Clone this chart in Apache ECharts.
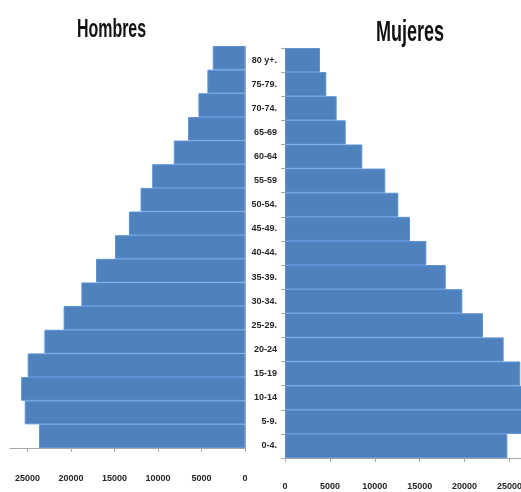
<!DOCTYPE html>
<html>
<head>
<meta charset="utf-8">
<script src="https://cdn.jsdelivr.net/npm/echarts@6/dist/echarts.min.js"></script>
<style>
  html, body { margin: 0; padding: 0; background: #fff; }
  #chart { width: 521px; height: 492px; }
</style>
</head>
<body>
<div id="chart"></div>
<script>
// Age groups, youngest at the bottom
const ageGroups = ['0-4.', '5-9.', '10-14', '15-19', '20-24', '25-29.', '30-34.', '35-39.',
  '40-44.', '45-49.', '50-54.', '55-59', '60-64', '65-69', '70-74.', '75-79.', '80 y+.'];

// Population by age group
const hombres = [23660, 25310, 25720, 24970, 23050, 20840, 18800, 17120,
  14940, 13340, 12000, 10660, 8180, 6540, 5350, 4320, 3700];
const mujeres = [24760, 26900, 27200, 26200, 24350, 22050, 19750, 17900,
  15740, 13920, 12620, 11170, 8610, 6760, 5750, 4600, 3900];

// Value axis tick labels
const xTicks = [0, 5000, 10000, 15000, 20000, 25000];

const barColor = '#4f81bd';
const axisGray = '#a6a6a6';
const labelFont = { fontFamily: 'Liberation Sans', fontSize: 9, color: '#262626', fontWeight: 'bold' };

const chart = echarts.init(document.getElementById('chart'), null, { renderer: 'canvas' });

function valueAxis(gridIndex, max, inverse, margin) {
  return {
    type: 'value', gridIndex, min: 0, max, inverse,
    splitLine: { show: false },
    axisLine: { show: true, lineStyle: { color: axisGray, width: 1 } },
    axisTick: { show: true, length: 4, lineStyle: { color: axisGray }, customValues: xTicks },
    axisLabel: Object.assign({ margin, customValues: xTicks, formatter: v => String(v) }, labelFont)
  };
}

function barSeries(name, data, idx) {
  return {
    name, type: 'bar', data,
    xAxisIndex: idx, yAxisIndex: idx,
    barCategoryGap: '0%',
    itemStyle: { color: barColor, borderColor: '#5b92d8', borderWidth: 1 },
    emphasis: { disabled: true }
  };
}

function title(text, x, y, size, sx, sy) {
  return {
    type: 'text', x, y, scaleX: sx, scaleY: sy,
    style: { text, fontFamily: 'Liberation Sans', fontWeight: 'bold',
      fontSize: size, fill: '#111', align: 'center', verticalAlign: 'middle' }
  };
}

chart.setOption({
  animation: false,
  backgroundColor: '#fff',
  grid: [
    { left: 10, width: 235, top: 46, height: 402, outerBoundsMode: 'none', containLabel: false },
    { left: 285, width: 269.4, top: 48, height: 410, outerBoundsMode: 'none', containLabel: false }
  ],
  xAxis: [
    valueAxis(0, 27000, true, 26),
    valueAxis(1, 30000, false, 24)
  ],
  yAxis: [
    {
      type: 'category', gridIndex: 0, data: ageGroups, position: 'right',
      axisLine: { show: true, lineStyle: { color: axisGray } },
      axisTick: { show: false }, axisLabel: { show: false }
    },
    {
      type: 'category', gridIndex: 1, data: ageGroups, position: 'left',
      axisLine: { show: true, lineStyle: { color: axisGray } },
      axisTick: { show: true, length: 4, lineStyle: { color: axisGray } },
      axisLabel: Object.assign({ margin: 8 }, labelFont)
    }
  ],
  series: [
    barSeries('Hombres', hombres, 0),
    barSeries('Mujeres', mujeres, 1)
  ],
  graphic: [
    title('Hombres', 111.5, 29.5, 21, 0.76, 1.27),
    title('Mujeres', 410, 32.5, 22, 0.82, 1.33)
  ]
});
</script>
</body>
</html>
